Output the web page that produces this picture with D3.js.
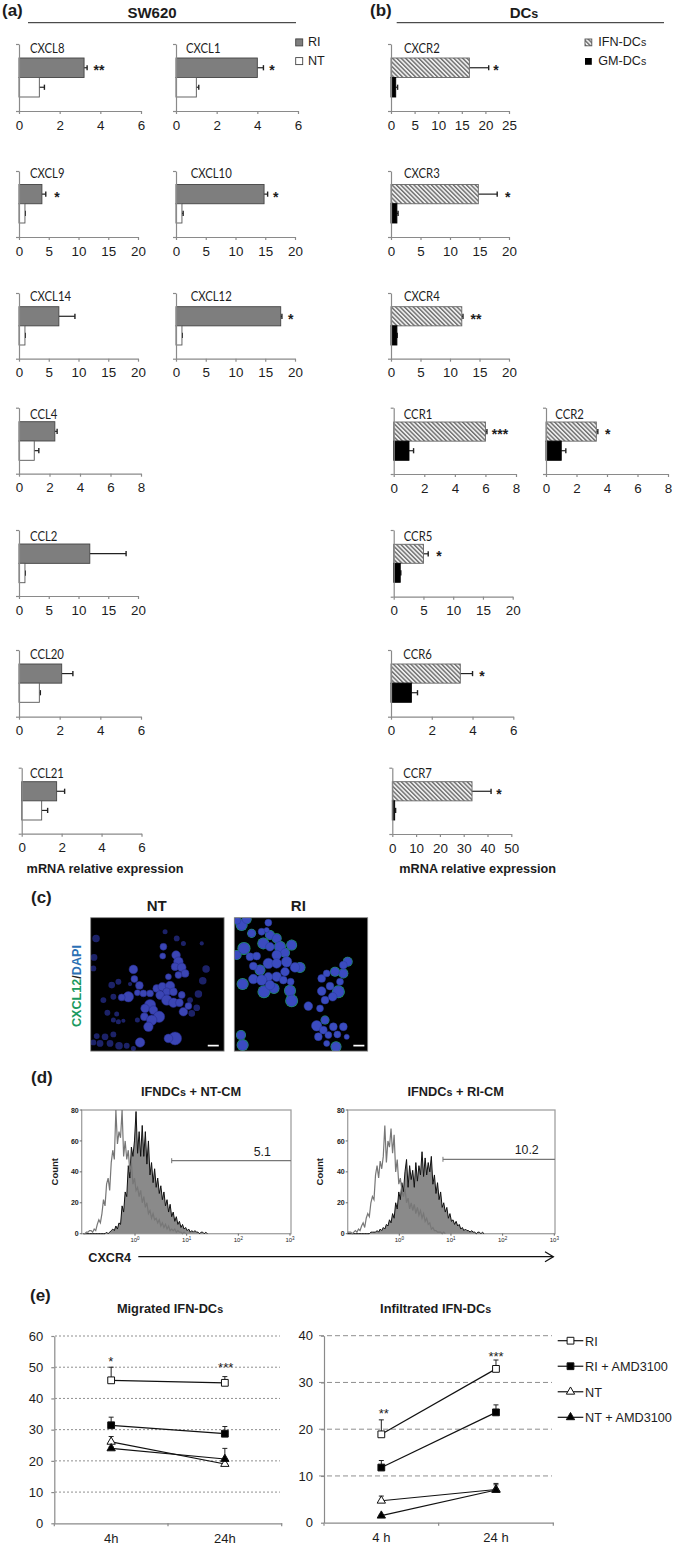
<!DOCTYPE html>
<html>
<head>
<meta charset="utf-8">
<script src="https://cdn.jsdelivr.net/npm/d3@7"></script>
<style>
  html, body { margin: 0; padding: 0; background: #fff; }
  svg { display: block; }
  text { font-family: "Liberation Sans", Arial, sans-serif; fill: #1c1c1c; }
  .gene { font-family: Lato, "Open Sans", sans-serif; font-size: 13px; }
  .bold { font-weight: bold; }
  .axis text { font-size: 13.4px; }
  .axis path, .axis line { stroke: #8a8a8a; stroke-width: 1.2; }
</style>
</head>
<body>
<svg id="figure" width="675" height="1545"></svg>
<script>
// ---------- data: panel (a) SW620 ----------
const swGenes = ['CXCL8', 'CXCL1', 'CXCL9', 'CXCL10', 'CXCL14', 'CXCL12', 'CCL4', 'CCL2', 'CCL20', 'CCL21'];
const swRI = [3.2, 4, 3.85, 14.8, 6.7, 17.6, 2.35, 11.9, 2.1, 1.75];
const swRITop = [3.35, 4.3, 4.5, 15.4, 9.4, 17.8, 2.5, 18, 2.65, 2.15];
const swNT = [1, 1, 1, 1, 1, 1, 1, 1, 1, 1];
const swNTTop = [1.25, 1.12, 1.05, 1.2, 1.05, 1.05, 1.3, 1.05, 1.05, 1.3];
const swStars = ['**', '*', '*', '*', '', '*', '', '', '', ''];
const swMax = [6, 6, 20, 20, 20, 20, 8, 20, 6, 6];
const swStep = [2, 2, 5, 5, 5, 5, 2, 5, 2, 2];

// ---------- data: panel (b) DCs ----------
const dcGenes = ['CXCR2', 'CXCR3', 'CXCR4', 'CCR1', 'CCR2', 'CCR5', 'CCR6', 'CCR7'];
const dcIFN = [16.6, 14.8, 12, 6, 3.3, 5, 3.4, 33.5];
const dcIFNTop = [20.7, 18, 12.2, 6.1, 3.4, 5.8, 4, 41.5];
const dcGM = [1, 1, 1, 1, 1, 1.1, 1, 1];
const dcGMTop = [1.4, 1.2, 1.05, 1.3, 1.3, 1.2, 1.3, 1.4];
const dcStars = ['*', '*', '**', '***', '*', '*', '*', '*'];
const dcMax = [25, 20, 20, 8, 8, 20, 6, 50];
const dcStep = [5, 5, 5, 2, 2, 5, 2, 10];

// ---------- data: panel (c) cells, [x, y, r] in a 400 x 400 image ----------
const ntBright = [[128,155,10],[131,184,8],[146,203,9],[113,237,12],[93,239,8],[140,225,7],[158,227,8],[178,227,8],[198,212,9],[215,207,10],[238,205,11],[228,222,9],[248,222,9],[208,232,10],[228,247,12],[248,255,11],[273,232,8],[266,255,9],[278,282,10],[293,265,8],[178,262,13],[163,272,10],[188,277,10],[161,297,9],[205,297,13],[183,307,12],[173,327,11],[253,362,15],[233,362,10],[148,374,11],[218,87,8],[216,115,7],[256,112,10],[263,132,11],[253,147,9],[273,149,10],[283,167,9],[263,172,8],[233,177,7]];
const ntDim = [[63,202,8],[83,192,7],[38,247,7],[68,237,7],[118,199,5],[346,154,9],[336,189,9],[323,229,9],[303,287,8],[318,270,8],[273,227,6],[298,247,7],[50,285,7],[78,289,6],[68,307,6],[83,312,6],[98,309,5],[140,307,6],[18,355,7],[43,357,8],[68,350,7],[58,377,8],[28,377,8],[8,374,7],[85,384,9],[108,384,7],[128,392,6],[16,62,9],[10,119,8],[8,152,7],[223,42,6],[258,62,7],[278,77,6],[333,77,5]];
const riHalo = [[22,22,12],[37,5,10],[9,9,8],[52,47,9],[87,77,12],[107,52,10],[127,62,10],[137,87,12],[172,82,11],[152,105,10],[29,92,13],[7,112,10],[77,157,11],[197,149,11],[25,199,12],[89,222,13],[119,212,11],[167,219,12],[172,249,13],[302,162,10],[327,167,10],[340,132,10],[312,222,13],[25,382,12],[20,352,10],[272,307,9],[305,387,11]];
const riPlain = [[82,42,8],[107,87,10],[127,112,11],[47,117,9],[67,115,9],[57,145,9],[102,137,12],[127,137,11],[157,132,12],[182,149,11],[152,162,10],[127,177,11],[102,177,10],[57,184,11],[82,187,12],[107,202,11],[147,187,9],[169,192,8],[222,265,10],[257,272,8],[272,247,9],[262,220,10],[262,182,9],[277,167,8],[327,142,9],[295,237,10],[287,205,9],[317,192,8],[247,324,12],[267,337,9],[297,327,9],[252,357,9],[282,352,8],[309,350,8],[327,327,9],[277,377,7],[337,357,6],[102,15,8],[97,37,6]];
const scaleBars = [[351, 384], [357, 390]];

// ---------- data: panel (d) flow histograms, one count per log bin from 10^-1 ----------
const ntIsotype = [0,0,1,1,2,2,1,3,2,6,9,7,13,22,18,32,36,28,46,54,48,80,58,66,62,80,50,60,48,54,40,46,32,36,28,30,24,28,20,24,17,20,13,15,10,13,9,10,7,9,5,7,4,6,3,5,2,3,2,3,1,2,1,1,0,1,0];
const ntCXCR4 = [0,0,0,0,0,0,0,0,0,0,0,0,0,0,0,1,0,1,2,3,2,5,3,7,6,18,14,27,24,44,36,56,50,60,79,52,66,50,70,50,66,45,60,38,46,33,42,30,36,26,31,22,27,18,22,14,19,11,14,8,11,6,8,4,6,3,4,2,3,1,2,1,2,1,1,0,1,1,0,1,0];
const riIsotype = [1,1,1,0,1,2,1,3,2,5,7,4,10,13,11,20,24,22,38,44,36,47,42,50,70,46,60,56,68,52,64,40,48,32,36,28,24,29,20,23,16,20,15,19,13,17,12,15,10,13,8,10,6,7,3,4,2,2,1,1,1,0,1,0];
const riCXCR4 = [0,0,0,0,0,0,0,0,0,0,0,0,0,0,0,1,1,1,1,2,1,3,2,4,3,6,5,9,7,13,10,20,16,27,22,33,27,40,48,30,44,35,41,30,46,34,44,38,53,37,49,38,46,40,50,32,38,26,33,22,27,17,20,14,17,10,13,8,9,6,8,5,6,3,4,2,3,2,2,1,2,1,1,0,1,1,0,1,0];
const countTicks = [0, 20, 40, 60, 80];
const logTicks = [1, 10, 100, 1000];
const gateValues = [5.13, 7.0];
const gateLabels = ['5.1', '10.2'];
const histLogStart = -1;
const histLogStep = 0.03;

// ---------- data: panel (e) migration, [4h, 24h] ----------
const seriesNames = ['RI', 'RI + AMD3100', 'NT', 'NT + AMD3100'];
const migrated = [[45.8, 45], [31.4, 28.7], [26.1, 19], [24, 20.6]];
const migratedTop = [[50, 47], [34, 31], [27.8, 20.5], [24.5, 24]];
const infiltrated = [[18.9, 32.9], [11.8, 23.6], [4.7, 7.1], [1.5, 7]];
const infiltratedTop = [[22, 34.8], [13.3, 25.2], [5.7, 8.4], [1.7, 8.1]];
const migratedTimes = ['4h', '24h'];
const infiltratedTimes = ['4 h', '24 h'];

// ---------- layout ----------
// x0, x1, axis top, axis bottom, bar top, bar bottom, gene x, gene baseline, star x
const swBoxes = [
  [19, 141, 44, 111, 58, 97, 30, 53, 99],
  [176, 298, 44, 111, 58, 97, 186, 53, 272],
  [19, 138, 171, 237, 184.5, 223, 30, 178, 57],
  [176, 295, 171, 237, 184.5, 223, 190.7, 178, 275.7],
  [19, 138, 293, 358.7, 306.7, 345, 30, 301, 0],
  [176, 295, 293, 358.7, 306.7, 345, 190.7, 301, 290.7],
  [19, 141, 407.7, 473.7, 421.7, 460.3, 30, 419, 0],
  [19, 138, 530, 596, 544, 582.7, 30, 540.7, 0],
  [19, 141, 650, 716.7, 664, 702.3, 30, 659, 0],
  [21.7, 141.5, 767.7, 833.7, 781.7, 820, 30, 777.7, 0]
];
const dcBoxes = [
  [391, 509, 44, 111, 58, 97, 404, 53, 496],
  [391, 509, 171, 237, 184.5, 223, 404, 177.7, 507.7],
  [391, 509, 293, 358.7, 306.7, 345, 404, 301, 476],
  [393.7, 516, 407.7, 474, 422, 460.3, 403.7, 419.3, 500],
  [546, 668, 407.7, 474, 422, 460.3, 555.3, 419.3, 607.7],
  [393.7, 512.7, 530, 596.7, 544.3, 582.3, 403.7, 541, 439],
  [391, 513.3, 650, 716.7, 664, 702.3, 403.3, 659, 482],
  [392.3, 511.3, 767.7, 834, 781.7, 820, 403.3, 777.7, 499]
];

const svg = d3.select('#figure');
const defs = svg.append('defs');

const hatch = defs.append('pattern')
  .attr('id', 'hatch')
  .attr('patternUnits', 'userSpaceOnUse')
  .attr('width', 3.1)
  .attr('height', 3.1)
  .attr('patternTransform', 'rotate(-45)');
hatch.append('rect').attr('width', 3.1).attr('height', 3.1).attr('fill', '#ededed');
hatch.append('rect').attr('width', 1.4).attr('height', 3.1).attr('fill', '#6f6f6f');

defs.append('filter').attr('id', 'soft').append('feGaussianBlur').attr('stdDeviation', 0.7);

function label(x, y, str, size, anchor, cls) {
  return svg.append('text')
    .attr('class', cls || null)
    .attr('x', x)
    .attr('y', y)
    .attr('text-anchor', anchor || 'start')
    .style('font-size', `${size}px`)
    .text(str);
}

// "DCs" is set with a small s in the figure
function smallS(textSel, str) {
  const parts = str.split('Cs');
  textSel.text(null);
  textSel.append('tspan').text(parts[0] + 'C');
  textSel.append('tspan').style('font-size', '0.84em').text('s');
  if (parts[1]) textSel.append('tspan').text(parts[1]);
}

// ---------- bar panels ----------
function drawBar(box, gene, topVal, topErr, lowVal, lowErr, stars, max, step, styles) {
  const [x0, x1, axisTop, axisBottom, barTop, barBottom, geneX, geneY, starX] = box;
  const x = d3.scaleLinear().domain([0, max]).range([x0, x1]);
  const y = d3.scaleBand().domain(['top', 'low']).range([barTop, barBottom]);
  const tickY = d3.scaleLinear().domain([0, 1]).range([axisBottom, axisTop]);
  const g = svg.append('g');
  const rows = [
    {key: 'top', value: topVal, err: topErr, style: styles[0]},
    {key: 'low', value: lowVal, err: lowErr, style: styles[1]}
  ];

  g.selectAll('.err').data(rows).join('line')
    .attr('x1', d => x(d.value))
    .attr('x2', d => x(d.err))
    .attr('y1', d => y(d.key) + y.bandwidth() / 2)
    .attr('y2', d => y(d.key) + y.bandwidth() / 2)
    .attr('stroke', '#222')
    .attr('stroke-width', 1.2);
  g.selectAll('.cap').data(rows).join('line')
    .attr('x1', d => x(d.err))
    .attr('x2', d => x(d.err))
    .attr('y1', d => y(d.key) + y.bandwidth() / 2 - 2.6)
    .attr('y2', d => y(d.key) + y.bandwidth() / 2 + 2.6)
    .attr('stroke', '#222')
    .attr('stroke-width', 1.4);
  g.selectAll('.bar').data(rows).join('rect')
    .attr('x', x(0))
    .attr('y', d => y(d.key))
    .attr('width', d => x(d.value) - x(0))
    .attr('height', y.bandwidth())
    .attr('fill', d => d.style.fill)
    .attr('stroke', d => d.style.stroke)
    .attr('stroke-width', 0.9);

  g.append('g')
    .attr('class', 'axis')
    .attr('transform', `translate(${x0}, 0)`)
    .call(d3.axisLeft(tickY).tickValues([0, 1]).tickFormat('').tickSize(3).tickSizeOuter(0));
  g.append('g')
    .attr('class', 'axis')
    .attr('transform', `translate(0, ${axisBottom})`)
    .call(d3.axisBottom(x).tickValues(d3.range(0, max + step, step)).tickFormat(d3.format('d')).tickSize(3).tickSizeOuter(0).tickPadding(6))
    .call(a => a.selectAll('text').attr('fill', '#1c1c1c').style('font-family', '"Liberation Sans", Arial, sans-serif'));

  // Lato is wider than the figure's label face, so squeeze it a little
  const geneText = g.append('text').attr('class', 'gene').attr('x', geneX).attr('y', geneY).text(gene);
  geneText.attr('textLength', geneText.node().getComputedTextLength() * 0.87).attr('lengthAdjust', 'spacingAndGlyphs');
  if (stars) {
    g.append('text')
      .attr('x', starX)
      .attr('y', y('top') + y.bandwidth() / 2 + 7.5)
      .attr('text-anchor', 'middle')
      .style('font-size', '14px')
      .style('font-weight', 'bold')
      .text(stars);
  }
}

const swStyles = [{fill: '#7e7e7e', stroke: '#444'}, {fill: '#fff', stroke: '#555'}];
const dcStyles = [{fill: 'url(#hatch)', stroke: '#666'}, {fill: '#000', stroke: '#000'}];

swGenes.forEach((gene, i) => {
  drawBar(swBoxes[i], gene, swRI[i], swRITop[i], swNT[i], swNTTop[i], swStars[i], swMax[i], swStep[i], swStyles);
});
dcGenes.forEach((gene, i) => {
  drawBar(dcBoxes[i], gene, dcIFN[i], dcIFNTop[i], dcGM[i], dcGMTop[i], dcStars[i], dcMax[i], dcStep[i], dcStyles);
});

// headers and legends of (a) and (b)
label(2, 16, '(a)', 17, 'start', 'bold');
label(152, 18, 'SW620', 15, 'middle', 'bold');
label(370, 16, '(b)', 17, 'start', 'bold');
smallS(label(524, 18, '', 15, 'middle', 'bold'), 'DCs');
svg.append('line').attr('x1', 28).attr('x2', 296).attr('y1', 22.7).attr('y2', 22.7).attr('stroke', '#222').attr('stroke-width', 1);
svg.append('line').attr('x1', 396.7).attr('x2', 664).attr('y1', 22.7).attr('y2', 22.7).attr('stroke', '#222').attr('stroke-width', 1);

svg.append('rect').attr('x', 295.7).attr('y', 38.9).attr('width', 7).attr('height', 7).attr('fill', swStyles[0].fill).attr('stroke', '#444').attr('stroke-width', 0.9);
svg.append('rect').attr('x', 295.7).attr('y', 57.6).attr('width', 7).attr('height', 7).attr('fill', '#fff').attr('stroke', '#444').attr('stroke-width', 0.9);
label(308, 46, 'RI', 12.6);
label(308, 65, 'NT', 12.6);
svg.append('rect').attr('x', 585).attr('y', 39).attr('width', 6.8).attr('height', 6.8).attr('fill', 'url(#hatch)').attr('stroke', '#555').attr('stroke-width', 0.9);
svg.append('rect').attr('x', 585).attr('y', 58).attr('width', 6.8).attr('height', 6.8).attr('fill', '#000');
smallS(label(598.3, 46, '', 12.6), 'IFN-DCs');
smallS(label(598.3, 65, '', 12.6), 'GM-DCs');
label(105, 873, 'mRNA relative expression', 12.7, 'middle', 'bold');
label(477.7, 873, 'mRNA relative expression', 12.7, 'middle', 'bold');

// ---------- panel (c) ----------
function drawImage(left, top, title, titleX, groups, bar) {
  const size = 133.4;
  const pos = d3.scaleLinear().domain([0, 400]).range([0, size]);
  const clipId = `clip-${title}`;
  defs.append('clipPath').attr('id', clipId).append('rect').attr('width', size).attr('height', size);
  const g = svg.append('g').attr('transform', `translate(${left}, ${top})`);
  g.append('rect').attr('width', size).attr('height', size).attr('fill', '#000');
  const cells = g.append('g').attr('clip-path', `url(#${clipId})`).append('g').attr('filter', 'url(#soft)');
  groups.forEach(group => {
    cells.selectAll(null).data(group.cells).join('circle')
      .attr('cx', d => pos(d[0]))
      .attr('cy', d => pos(d[1]))
      .attr('r', d => pos(d[2]) * group.grow)
      .attr('fill', group.fill)
      .attr('stroke', group.stroke)
      .attr('stroke-width', 0.5);
  });
  g.append('rect').attr('x', pos(bar[0])).attr('y', pos(381)).attr('width', pos(bar[1] - bar[0])).attr('height', 1.7).attr('fill', '#fff');
  g.append('rect').attr('width', size).attr('height', size).attr('fill', 'none').attr('stroke', '#8a8a8a').attr('stroke-width', 0.8);
  label(titleX, 911, title, 15, 'middle', 'bold');
}

drawImage(90.7, 917.7, 'NT', 156.7, [
  {cells: ntDim, fill: '#1c2168', stroke: 'none', grow: 1.25},
  {cells: ntBright, fill: '#3a44b4', stroke: '#262c86', grow: 1.3}
], scaleBars[0]);
// the green rim shows where the halo layer sticks out from under the nuclei
drawImage(234.3, 917.7, 'RI', 298.3, [
  {cells: riHalo, fill: '#1fa565', stroke: 'none', grow: 1.5},
  {cells: riHalo, fill: '#3a4cc0', stroke: '#2a3a9c', grow: 1.3},
  {cells: riPlain, fill: '#3a4cc0', stroke: '#2a3a9c', grow: 1.3}
], scaleBars[1]);

const sideLabel = svg.append('text')
  .attr('class', 'bold')
  .attr('transform', 'translate(81, 1027) rotate(-90)')
  .style('font-size', '12.6px');
sideLabel.append('tspan').style('fill', '#1b9a5e').text('CXCL12');
sideLabel.append('tspan').style('fill', '#222').text('/');
sideLabel.append('tspan').style('fill', '#2b70b4').text('DAPI');
label(31, 903, '(c)', 17, 'start', 'bold');

// ---------- panel (d) ----------
function drawFlow(box, title, titleX, countX, isotype, stained, gate, gateLabel, gateY, gateLabelX) {
  const [left, zero, decadeEnd, right] = box;
  const top = 1110;
  const bottom = 1233.7;
  const x = d3.scaleLog().domain([1, 1000]).range([zero, decadeEnd]);
  const y = d3.scaleLinear().domain([0, 80]).range([bottom, top]);
  const area = d3.area().x(d => x(d.x)).y0(bottom).y1(d => y(d.y));
  const line = d3.line().x(d => x(d.x)).y(d => y(d.y));
  const toBins = counts => counts.map((c, i) => ({x: Math.pow(10, histLogStart + histLogStep * i), y: c}));

  const g = svg.append('g');
  g.append('rect')
    .attr('x', left).attr('y', top)
    .attr('width', right - left).attr('height', bottom - top)
    .attr('fill', 'none').attr('stroke', '#a0a0a0').attr('stroke-width', 1.3);

  g.append('path').datum(toBins(stained)).attr('d', area).attr('fill', '#8a8a8a');
  g.append('path').datum(toBins(stained)).attr('d', line).attr('fill', 'none').attr('stroke', '#111').attr('stroke-width', 1);
  g.append('path').datum(toBins(isotype)).attr('d', line).attr('fill', 'none').attr('stroke', '#777').attr('stroke-width', 1.2);

  g.selectAll('.cy').data(countTicks).join('line')
    .attr('x1', left - 2).attr('x2', left)
    .attr('y1', d => y(d)).attr('y2', d => y(d))
    .attr('stroke', '#444').attr('stroke-width', 0.8);
  g.selectAll('.cyl').data(countTicks).join('text')
    .attr('x', left - 3)
    .attr('y', d => y(d) + 2.6)
    .attr('text-anchor', 'end')
    .attr('class', 'bold')
    .style('font-size', '7px')
    .text(d => d);

  g.selectAll('.cx').data(logTicks).join('line')
    .attr('x1', d => x(d)).attr('x2', d => x(d))
    .attr('y1', bottom).attr('y2', bottom + 2)
    .attr('stroke', '#444').attr('stroke-width', 0.8);
  const xLabels = g.selectAll('.cxl').data(logTicks).join('text')
    .attr('x', d => x(d))
    .attr('y', bottom + 8.5)
    .attr('text-anchor', 'middle')
    .style('font-size', '6px');
  xLabels.append('tspan').text('10');
  xLabels.append('tspan').attr('dy', -2).style('font-size', '4.5px').text(d => Math.log10(d));

  g.append('line').attr('x1', x(gate)).attr('x2', right).attr('y1', gateY).attr('y2', gateY).attr('stroke', '#777').attr('stroke-width', 1.2);
  g.append('line').attr('x1', x(gate)).attr('x2', x(gate)).attr('y1', gateY - 2.5).attr('y2', gateY + 2.5).attr('stroke', '#777').attr('stroke-width', 1);
  label(gateLabelX, gateY - 5, gateLabel, 12.4, 'middle');

  smallS(label(titleX, 1095.5, '', 12.8, 'middle', 'bold'), title);
  svg.append('text')
    .attr('class', 'bold')
    .attr('transform', `translate(${countX}, 1171.7) rotate(-90)`)
    .attr('text-anchor', 'middle')
    .style('font-size', '9.5px')
    .text('Count');
}

drawFlow([81.7, 135, 290, 291], 'IFNDCs + NT-CM', 191, 58, ntIsotype, ntCXCR4, gateValues[0], gateLabels[0], 1160.7, 262.3);
drawFlow([347.7, 399.3, 554.3, 555], 'IFNDCs + RI-CM', 455.7, 322.7, riIsotype, riCXCR4, gateValues[1], gateLabels[1], 1159.3, 526.7);

label(31, 1083, '(d)', 17, 'start', 'bold');
label(88.3, 1261.7, 'CXCR4', 12.6, 'start', 'bold');
svg.append('line').attr('x1', 138.3).attr('x2', 553.3).attr('y1', 1256.7).attr('y2', 1256.7).attr('stroke', '#111').attr('stroke-width', 1.3);
svg.append('path').attr('d', d3.line()([[545, 1251.7], [553.3, 1256.7], [545, 1261.7]])).attr('fill', 'none').attr('stroke', '#111').attr('stroke-width', 1.3);

// ---------- panel (e) ----------
const markers = [
  {type: d3.symbolSquare, area: 46, fill: '#fff'},
  {type: d3.symbolSquare, area: 46, fill: '#000'},
  {type: d3.symbolTriangle, area: 30, fill: '#fff'},
  {type: d3.symbolTriangle, area: 30, fill: '#000'}
];

function drawSymbol(g, x, y, i) {
  const m = markers[i];
  g.append('path')
    .attr('d', d3.symbol().type(m.type).size(m.area)())
    .attr('transform', `translate(${x}, ${y})`)
    .attr('fill', m.fill)
    .attr('stroke', '#111')
    .attr('stroke-width', 1);
}

function drawLines(box, values, tops, times, yMax, dash, stars) {
  const {left, right, top, bottom, gridLeft, gridRight} = box;
  const x = d3.scaleBand().domain(times).range([left, right]);
  const y = d3.scaleLinear().domain([0, yMax]).range([bottom, top]);
  const cx = t => x(t) + x.bandwidth() / 2;
  const g = svg.append('g');

  g.selectAll('.grid').data(y.ticks(yMax / 10).filter(d => d > 0)).join('line')
    .attr('x1', gridLeft).attr('x2', gridRight)
    .attr('y1', d => y(d)).attr('y2', d => y(d))
    .attr('stroke', '#8f8f8f').attr('stroke-width', 1).attr('stroke-dasharray', dash);

  g.append('g')
    .attr('class', 'axis')
    .attr('transform', `translate(${left}, 0)`)
    .call(d3.axisLeft(y).ticks(yMax / 10).tickSize(3).tickSizeOuter(0).tickPadding(8))
    .call(a => a.selectAll('text').attr('fill', '#1c1c1c').style('font-family', '"Liberation Sans", Arial, sans-serif').style('font-size', '13px'));
  g.append('g')
    .attr('class', 'axis')
    .attr('transform', `translate(0, ${bottom})`)
    .call(d3.axisBottom(x).tickSize(0).tickSizeOuter(0).tickPadding(10))
    .call(a => a.selectAll('text').attr('fill', '#1c1c1c').style('font-family', '"Liberation Sans", Arial, sans-serif').style('font-size', '13px'));
  // category separators sit between the groups
  g.selectAll('.sep').data([left, (left + right) / 2, right]).join('line')
    .attr('x1', d => d).attr('x2', d => d)
    .attr('y1', bottom).attr('y2', bottom + 3)
    .attr('stroke', '#8a8a8a').attr('stroke-width', 1.2);

  const line = d3.line().x((d, i) => cx(times[i])).y(d => y(d));
  values.forEach((series, s) => {
    g.append('path').datum(series).attr('d', line).attr('fill', 'none').attr('stroke', '#111').attr('stroke-width', 1.2);
    series.forEach((v, i) => {
      g.append('line').attr('x1', cx(times[i])).attr('x2', cx(times[i])).attr('y1', y(v)).attr('y2', y(tops[s][i])).attr('stroke', '#222').attr('stroke-width', 1);
      g.append('line').attr('x1', cx(times[i]) - 2.5).attr('x2', cx(times[i]) + 2.5).attr('y1', y(tops[s][i])).attr('y2', y(tops[s][i])).attr('stroke', '#222').attr('stroke-width', 1);
    });
  });
  values.forEach((series, s) => {
    series.forEach((v, i) => drawSymbol(g, cx(times[i]), y(v), s));
  });
  stars.forEach(st => {
    g.append('text').attr('x', st[0]).attr('y', st[1]).attr('text-anchor', 'middle').style('font-size', '13px').text(st[2]);
  });
}

drawLines({left: 54.3, right: 281.7, top: 1336, bottom: 1523.3, gridLeft: 55, gridRight: 280}, migrated, migratedTop, migratedTimes, 60, '2 2', [[110.7, 1366, '*'], [225.7, 1372, '***']]);
drawLines({left: 324, right: 553.3, top: 1335.7, bottom: 1522.7, gridLeft: 319, gridRight: 552}, infiltrated, infiltratedTop, infiltratedTimes, 40, '5 3', [[383.7, 1418, '**'], [496, 1361, '***']]);

label(30, 1301, '(e)', 17, 'start', 'bold');
smallS(label(170, 1313.3, '', 12.8, 'middle', 'bold'), 'Migrated IFN-DCs');
smallS(label(435.7, 1313.3, '', 12.8, 'middle', 'bold'), 'Infiltrated IFN-DCs');

const legendRow = d3.scalePoint().domain(seriesNames).range([1340.7, 1417.3]);
seriesNames.forEach((name, i) => {
  const g = svg.append('g');
  g.append('line').attr('x1', 557.7).attr('x2', 583.3).attr('y1', legendRow(name)).attr('y2', legendRow(name)).attr('stroke', '#111').attr('stroke-width', 1.2);
  drawSymbol(g, 570.5, legendRow(name), i);
  label(585, legendRow(name) + 5, name, 12.7);
});
</script>
</body>
</html>
